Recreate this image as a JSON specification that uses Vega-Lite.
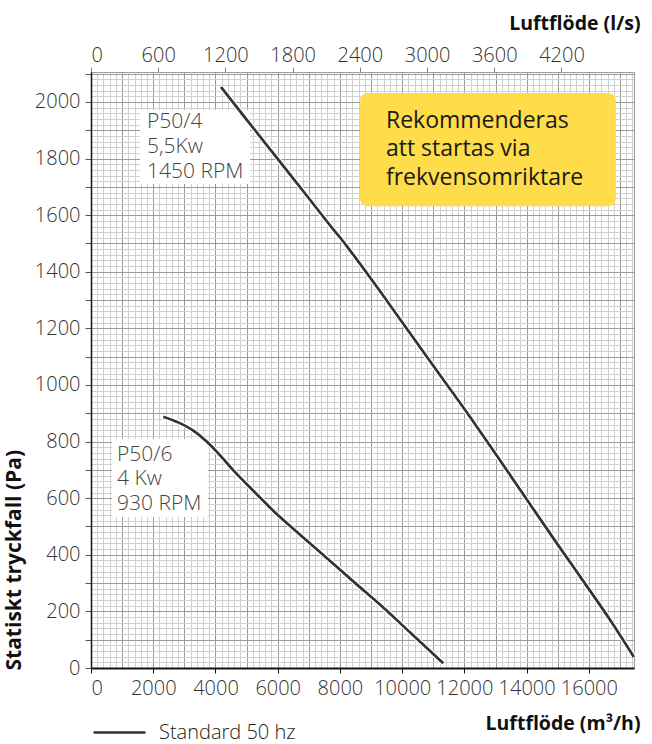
{
  "$schema": "https://vega.github.io/schema/vega-lite/v6.json",
  "width": 543,
  "height": 596,
  "autosize": {"type": "none"},
  "padding": {"left": 91, "top": 72, "right": 18, "bottom": 76},
  "background": "white",
  "config": {"font": "Open Sans", "view": {"stroke": "#999999", "strokeWidth": 1}},
  "datasets": {
    "curves": [
      {"fan": "P50/4", "q": 4177, "p": 2053},
      {"fan": "P50/4", "q": 5000, "p": 1938},
      {"fan": "P50/4", "q": 6000, "p": 1799},
      {"fan": "P50/4", "q": 7000, "p": 1660},
      {"fan": "P50/4", "q": 7800, "p": 1548},
      {"fan": "P50/4", "q": 8100, "p": 1508},
      {"fan": "P50/4", "q": 8280, "p": 1482},
      {"fan": "P50/4", "q": 9285, "p": 1332},
      {"fan": "P50/4", "q": 10000, "p": 1222},
      {"fan": "P50/4", "q": 11000, "p": 1068},
      {"fan": "P50/4", "q": 12177, "p": 888},
      {"fan": "P50/4", "q": 13000, "p": 757},
      {"fan": "P50/4", "q": 14169, "p": 569},
      {"fan": "P50/4", "q": 15000, "p": 436},
      {"fan": "P50/4", "q": 15871, "p": 299},
      {"fan": "P50/4", "q": 16700, "p": 167},
      {"fan": "P50/4", "q": 17446, "p": 39},
      {"fan": "P50/6", "q": 2323, "p": 888},
      {"fan": "P50/6", "q": 2800, "p": 868},
      {"fan": "P50/6", "q": 3300, "p": 838},
      {"fan": "P50/6", "q": 3717, "p": 800},
      {"fan": "P50/6", "q": 4200, "p": 745},
      {"fan": "P50/6", "q": 4562, "p": 700},
      {"fan": "P50/6", "q": 5000, "p": 650},
      {"fan": "P50/6", "q": 5500, "p": 595},
      {"fan": "P50/6", "q": 5815, "p": 560},
      {"fan": "P50/6", "q": 6500, "p": 492},
      {"fan": "P50/6", "q": 7500, "p": 396},
      {"fan": "P50/6", "q": 8500, "p": 299},
      {"fan": "P50/6", "q": 9285, "p": 224},
      {"fan": "P50/6", "q": 10300, "p": 121},
      {"fan": "P50/6", "q": 11319, "p": 17}
    ]
  },
  "layer": [
    {
      "data": {"name": "curves"},
      "mark": {"type": "line", "stroke": "white", "strokeWidth": 5, "opacity": 0},
      "encoding": {
        "x": {
          "field": "q", "type": "quantitative",
          "scale": {"domain": [0, 17450], "nice": false, "zero": false},
          "axis": {
            "orient": "bottom",
            "values": [0,200,400,600,800,1000,1200,1400,1600,1800,2000,2200,2400,2600,2800,3000,3200,3400,3600,3800,4000,4200,4400,4600,4800,5000,5200,5400,5600,5800,6000,6200,6400,6600,6800,7000,7200,7400,7600,7800,8000,8200,8400,8600,8800,9000,9200,9400,9600,9800,10000,10200,10400,10600,10800,11000,11200,11400,11600,11800,12000,12200,12400,12600,12800,13000,13200,13400,13600,13800,14000,14200,14400,14600,14800,15000,15200,15400,15600,15800,16000,16200,16400,16600,16800,17000,17200,17400],
            "format": "d",
            "labelExpr": "datum.value % 2000 === 0 ? datum.label : ''",
            "labelOverlap": false,
            "labelFont": "Open Sans",
            "labelFontSize": 20,
            "labelFontWeight": 300,
            "labelColor": "#333333",
            "labelPadding": 5,
            "grid": true,
            "gridColor": {"condition": {"test": "datum.value % 1000 === 0", "value": "#9a9a9a"}, "value": "#d0d0d0"},
            "gridWidth": 1,
            "ticks": true,
            "tickSize": 5,
            "tickColor": "#111111",
            "tickOpacity": {"condition": {"test": "datum.value % 2000 === 0", "value": 1}, "value": 0},
            "domain": true,
            "domainColor": "#111111",
            "domainWidth": 2,
            "title": "Luftflöde (m³/h)",
            "titleFont": "Open Sans",
            "titleFontSize": 19.5,
            "titleFontWeight": "bold",
            "titleColor": "#111111",
            "titleAnchor": "end",
            "titleAlign": "right",
            "titleBaseline": "middle",
            "titleX": 549,
            "titleY": 55
          }
        },
        "y": {
          "field": "p", "type": "quantitative",
          "scale": {"domain": [0, 2106], "nice": false, "zero": false},
          "axis": {
            "orient": "left",
            "values": [0,20,40,60,80,100,120,140,160,180,200,220,240,260,280,300,320,340,360,380,400,420,440,460,480,500,520,540,560,580,600,620,640,660,680,700,720,740,760,780,800,820,840,860,880,900,920,940,960,980,1000,1020,1040,1060,1080,1100,1120,1140,1160,1180,1200,1220,1240,1260,1280,1300,1320,1340,1360,1380,1400,1420,1440,1460,1480,1500,1520,1540,1560,1580,1600,1620,1640,1660,1680,1700,1720,1740,1760,1780,1800,1820,1840,1860,1880,1900,1920,1940,1960,1980,2000,2020,2040,2060,2080,2100],
            "format": "d",
            "labelExpr": "datum.value % 200 === 0 ? datum.label : ''",
            "labelOverlap": false,
            "labelFont": "Open Sans",
            "labelFontSize": 20,
            "labelFontWeight": 300,
            "labelColor": "#333333",
            "labelPadding": 5,
            "grid": true,
            "gridColor": {"condition": {"test": "datum.value % 100 === 0", "value": "#9a9a9a"}, "value": "#d0d0d0"},
            "gridWidth": 1,
            "ticks": true,
            "tickSize": 6,
            "tickColor": "#555555",
            "tickOpacity": {"condition": {"test": "datum.value % 100 === 0", "value": 1}, "value": 0},
            "domain": true,
            "domainColor": "#111111",
            "domainWidth": 1.5,
            "title": "Statiskt tryckfall (Pa)",
            "titleFont": "Open Sans",
            "titleFontSize": 21,
            "titleFontWeight": "bold",
            "titleColor": "#111111",
            "titleAnchor": "start",
            "titleAlign": "left",
            "titleAngle": -90,
            "titleBaseline": "middle",
            "titleX": -77,
            "titleY": 598
          }
        },
        "detail": {"field": "fan"}
      }
    },
    {
      "data": {"name": "curves"},
      "mark": {"type": "point", "opacity": 0},
      "encoding": {
        "x": {
          "field": "q", "type": "quantitative",
          "axis": {
            "orient": "top",
            "values": [0, 2160, 4320, 6480, 8640, 10800, 12960, 15120],
            "labelExpr": "format(datum.value / 3.6, 'd')",
            "labelOverlap": false,
            "labelFont": "Open Sans",
            "labelFontSize": 20,
            "labelFontWeight": 300,
            "labelColor": "#333333",
            "labelPadding": 2,
            "grid": false,
            "ticks": true,
            "tickSize": 5,
            "tickColor": "#888888",
            "domain": false,
            "title": "Luftflöde (l/s)",
            "titleFont": "Open Sans",
            "titleFontSize": 19.5,
            "titleFontWeight": "bold",
            "titleColor": "#111111",
            "titleAnchor": "end",
            "titleAlign": "right",
            "titleBaseline": "middle",
            "titleX": 549,
            "titleY": -49
          }
        },
        "y": {"field": "p", "type": "quantitative", "axis": null}
      }
    },
    {
      "data": {"values": [{}]},
      "mark": {"type": "rect", "fill": "#ffffff", "fillOpacity": 1},
      "encoding": {
        "x": {"datum": 1574, "type": "quantitative", "axis": null},
        "x2": {"datum": 5108},
        "y": {"datum": 1972, "type": "quantitative", "axis": null},
        "y2": {"datum": 1710}
      }
    },
    {
      "data": {"values": [{}]},
      "mark": {"type": "rect", "fill": "#ffffff", "fillOpacity": 1},
      "encoding": {
        "x": {"datum": 675, "type": "quantitative", "axis": null},
        "x2": {"datum": 3759},
        "y": {"datum": 809, "type": "quantitative", "axis": null},
        "y2": {"datum": 534}
      }
    },
    {
      "data": {"values": [{}]},
      "mark": {"type": "rect", "fill": "#FEDC4A", "cornerRadius": 8},
      "encoding": {
        "x": {"datum": 8643, "type": "quantitative", "axis": null},
        "x2": {"datum": 16867},
        "y": {"datum": 2032, "type": "quantitative", "axis": null},
        "y2": {"datum": 1632}
      }
    },
    {
      "data": {"name": "curves"},
      "mark": {"type": "line", "stroke": "white", "strokeWidth": 5, "interpolate": "monotone"},
      "encoding": {
        "x": {"field": "q", "type": "quantitative", "axis": null},
        "y": {"field": "p", "type": "quantitative", "axis": null},
        "detail": {"field": "fan"}
      }
    },
    {
      "data": {"name": "curves"},
      "mark": {"type": "line", "strokeWidth": 2.7, "interpolate": "monotone"},
      "encoding": {
        "x": {"field": "q", "type": "quantitative", "axis": null},
        "y": {"field": "p", "type": "quantitative", "axis": null},
        "detail": {"field": "fan"},
        "color": {
          "datum": "Standard 50 hz",
          "scale": {"range": ["#333333"]},
          "legend": {
            "orient": "none",
            "legendX": 1,
            "legendY": 633,
            "padding": 0,
            "title": null,
            "symbolType": "stroke",
            "symbolSize": 2700,
            "symbolStrokeWidth": 2.5,
            "labelFont": "Open Sans",
            "labelFontSize": 20,
            "labelFontWeight": 300,
            "labelColor": "#222222",
            "labelOffset": 12
          }
        }
      }
    },
    {
      "data": {"values": [{}]},
      "mark": {"type": "text", "text": ["P50/4", "5,5Kw", "1450 RPM"], "align": "left", "baseline": "middle", "font": "Open Sans", "fontSize": 21, "fontWeight": 300, "color": "#444444", "lineHeight": 25},
      "encoding": {
        "x": {"datum": 1800, "type": "quantitative", "axis": null},
        "y": {"datum": 1929, "type": "quantitative", "axis": null}
      }
    },
    {
      "data": {"values": [{}]},
      "mark": {"type": "text", "text": ["P50/6", "4 Kw", "930 RPM"], "align": "left", "baseline": "middle", "font": "Open Sans", "fontSize": 21, "fontWeight": 300, "color": "#444444", "lineHeight": 24.5},
      "encoding": {
        "x": {"datum": 835, "type": "quantitative", "axis": null},
        "y": {"datum": 753, "type": "quantitative", "axis": null}
      }
    },
    {
      "data": {"values": [{}]},
      "mark": {"type": "text", "text": ["Rekommenderas", "att startas via", "frekvensomriktare"], "align": "left", "baseline": "middle", "font": "Open Sans", "fontSize": 23, "color": "#1a1a1a", "lineHeight": 28.5},
      "encoding": {
        "x": {"datum": 9479, "type": "quantitative", "axis": null},
        "y": {"datum": 1933, "type": "quantitative", "axis": null}
      }
    }
  ],
  "resolve": {"axis": {"x": "independent", "y": "independent"}}
}
